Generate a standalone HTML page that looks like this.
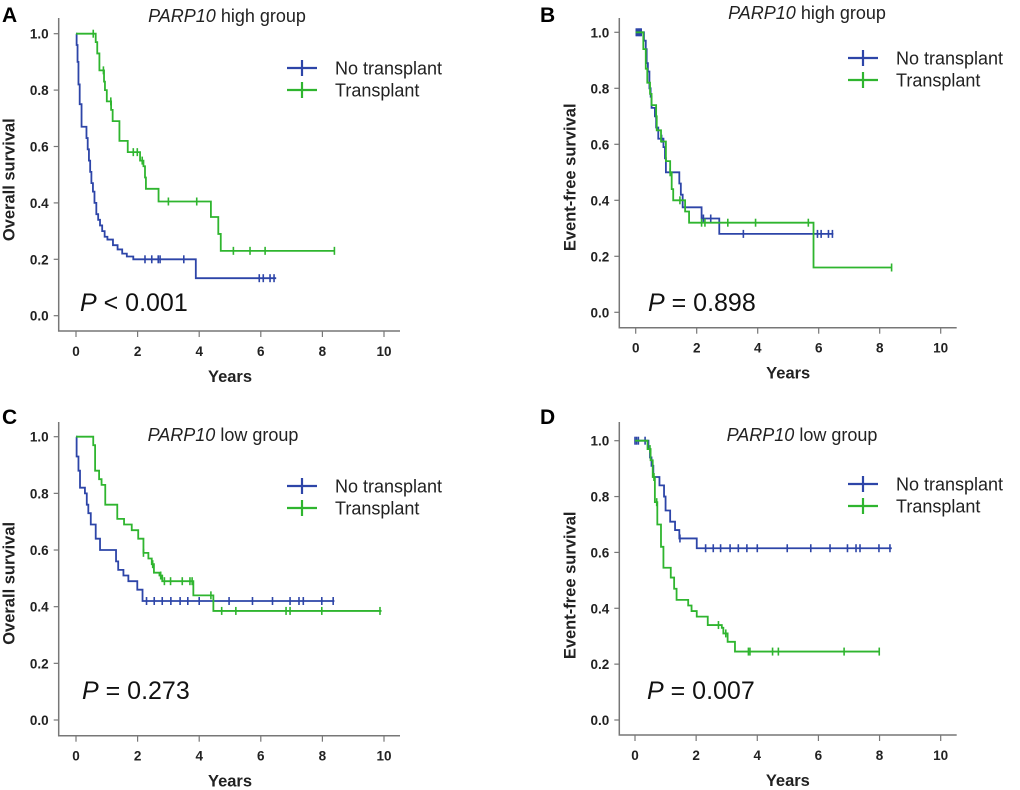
<!DOCTYPE html>
<html><head><meta charset="utf-8"><style>
body{margin:0;background:#fff}
svg{display:block}
text{font-family:"Liberation Sans",Arial,sans-serif}
</style></head><body>
<svg id="fig" width="1020" height="790" viewBox="0 0 1020 790" xmlns="http://www.w3.org/2000/svg"></svg>
<script>
// ---- Panel A: overall survival, PARP10 high ----
const aNoT=[0.02,0.05,0.08,0.12,0.18,0.34,0.38,0.42,0.46,0.5,0.55,0.6,0.66,0.72,0.78,0.85,0.93,1.02,1.2,1.35,1.5,1.65,1.86,3.89];
const aNoS=[0.96,0.9,0.82,0.75,0.67,0.63,0.59,0.55,0.51,0.47,0.44,0.4,0.36,0.34,0.32,0.30,0.28,0.27,0.25,0.235,0.22,0.21,0.2,0.133];
const aNoEnd=6.5;
const aNoC=[2.24,2.46,2.67,2.73,3.5,5.95,6.08,6.3,6.43];
const aTrT=[0.64,0.69,0.76,0.91,0.94,1.0,1.14,1.19,1.41,1.68,2.08,2.19,2.24,2.27,2.68,4.38,4.62,4.7];
const aTrS=[0.97,0.93,0.87,0.83,0.80,0.76,0.73,0.69,0.62,0.58,0.55,0.53,0.49,0.45,0.405,0.35,0.29,0.23];
const aTrEnd=8.41;
const aTrC=[0.56,0.89,1.13,1.86,1.99,2.15,3.0,3.92,5.11,5.65,6.14,8.39];
// ---- Panel B: event-free survival, PARP10 high ----
const bNoT=[0.27,0.33,0.36,0.40,0.45,0.49,0.52,0.63,0.67,0.74,0.91,0.96,0.99,1.43,1.48,1.54,2.16,2.74];
const bNoS=[0.97,0.94,0.89,0.86,0.80,0.77,0.73,0.70,0.66,0.62,0.59,0.55,0.50,0.46,0.42,0.375,0.335,0.28];
const bNoEnd=6.48;
const bNoC=[0.02,0.06,0.1,0.14,0.18,0.85,2.22,2.46,3.53,5.96,6.08,6.32,6.45];
const bTrT=[0.25,0.33,0.38,0.47,0.52,0.67,0.69,0.83,0.99,1.13,1.18,1.23,1.62,1.75,5.83];
const bTrS=[0.94,0.87,0.82,0.78,0.74,0.70,0.65,0.61,0.54,0.50,0.44,0.40,0.36,0.32,0.16];
const bTrEnd=8.39;
const bTrC=[1.13,1.45,2.16,2.27,3.02,3.93,5.66,8.39];
// ---- Panel C: overall survival, PARP10 low ----
const cNoT=[0.02,0.08,0.13,0.29,0.35,0.4,0.48,0.64,0.78,1.3,1.37,1.54,1.7,1.99,2.16];
const cNoS=[0.93,0.88,0.82,0.80,0.76,0.73,0.69,0.64,0.60,0.56,0.53,0.51,0.49,0.46,0.42];
const cNoEnd=8.39;
const cNoC=[2.29,2.54,2.8,3.08,3.38,3.63,4.0,4.97,5.73,6.38,6.95,7.24,7.38,7.98,8.35];
const cTrT=[0.56,0.62,0.75,0.83,0.95,1.34,1.56,1.81,2.02,2.19,2.35,2.46,2.53,2.71,2.8,3.81,4.46];
const cTrS=[0.97,0.88,0.85,0.83,0.76,0.71,0.69,0.67,0.64,0.59,0.57,0.55,0.52,0.51,0.49,0.44,0.385];
const cTrEnd=9.92;
const cTrC=[2.19,2.49,2.75,2.87,3.07,3.45,3.7,3.77,4.38,4.73,5.19,6.82,6.95,7.98,9.87];
// ---- Panel D: event-free survival, PARP10 low ----
const dNoT=[0.44,0.49,0.54,0.6,0.8,0.95,1.0,1.15,1.31,1.45,2.02];
const dNoS=[0.97,0.94,0.91,0.87,0.84,0.80,0.75,0.71,0.68,0.65,0.615];
const dNoEnd=8.4;
const dNoC=[0,0.05,0.11,0.33,1.47,2.31,2.56,2.8,3.11,3.38,3.66,4.0,4.98,5.75,6.38,6.95,7.23,7.36,7.98,8.34];
const dTrT=[0.41,0.51,0.58,0.65,0.73,0.85,0.93,1.17,1.28,1.36,1.74,1.85,2.02,2.38,2.84,2.89,3.03,3.27];
const dTrS=[0.97,0.93,0.87,0.78,0.70,0.62,0.545,0.51,0.47,0.43,0.41,0.39,0.37,0.34,0.33,0.31,0.28,0.245];
const dTrEnd=7.99;
const dTrC=[0.49,0.62,0.71,2.73,2.97,3.71,3.76,4.5,4.69,6.84,7.99];

const xTicks=[0,2,4,6,8,10];
const yTicks=[0,0.2,0.4,0.6,0.8,1.0];
const BLUE="#2d45a8", GREEN="#2fb52f";
const NS="http://www.w3.org/2000/svg";
const svg=document.getElementById('fig');
function mk(tag,attrs,parent){const e=document.createElementNS(NS,tag);for(const k in attrs)e.setAttribute(k,attrs[k]);(parent||svg).appendChild(e);return e;}

const panels=[
 {id:'a',letter:'A',lx:2,ly:22,ax:58.7,ay:18,x0:76,x10:384,y0:315.7,y1:33.7,bot:331,right:400,ylab:'Overall survival',title:'high',tx:227,ty:22,legY:68,legX:287,p:'< 0.001',px:80,py:311,
  s:[[aNoT,aNoS,aNoEnd,aNoC,BLUE,'no-transplant'],[aTrT,aTrS,aTrEnd,aTrC,GREEN,'transplant']]},
 {id:'b',letter:'B',lx:540,ly:22,ax:619.3,ay:18,x0:635.7,x10:940.7,y0:312.3,y1:32.3,bot:327.7,right:956.7,ylab:'Event-free survival',title:'high',tx:807,ty:19,legY:58,legX:848,p:'= 0.898',px:648,py:311,
  s:[[bNoT,bNoS,bNoEnd,bNoC,BLUE,'no-transplant'],[bTrT,bTrS,bTrEnd,bTrC,GREEN,'transplant']]},
 {id:'c',letter:'C',lx:2,ly:424,ax:58.7,ay:422,x0:76,x10:384,y0:720,y1:436.7,bot:735.7,right:400,ylab:'Overall survival',title:'low',tx:223,ty:441,legY:486,legX:287,p:'= 0.273',px:82,py:699,
  s:[[cNoT,cNoS,cNoEnd,cNoC,BLUE,'no-transplant'],[cTrT,cTrS,cTrEnd,cTrC,GREEN,'transplant']]},
 {id:'d',letter:'D',lx:540,ly:424,ax:619.3,ay:422,x0:635,x10:940.7,y0:720,y1:440.7,bot:735,right:956.7,ylab:'Event-free survival',title:'low',tx:802,ty:441,legY:484,legX:848,p:'= 0.007',px:647,py:699,
  s:[[dNoT,dNoS,dNoEnd,dNoC,BLUE,'no-transplant'],[dTrT,dTrS,dTrEnd,dTrC,GREEN,'transplant']]}
];

panels.forEach(P=>{
 const g=mk('g',{});
 
 
 const X=t=>P.x0+(P.x10-P.x0)*t/10;
 const Y=v=>P.y0+(P.y1-P.y0)*v;
 const L=mk('text',{x:P.lx,y:P.ly,'font-size':21,'font-weight':'bold',fill:'#000'},g);L.textContent=P.letter;
 
 
 const ax=mk('path',{d:`M${P.ax},${P.ay}V${P.bot}H${P.right}`,stroke:'#777',fill:'none','stroke-width':1.5},g);
 
 
 yTicks.forEach(v=>{
  mk('line',{x1:P.ax-5,x2:P.ax,y1:Y(v),y2:Y(v),stroke:'#777','stroke-width':1.2},g);
  const t=mk('text',{x:P.ax-10,y:Y(v)+5,'font-size':13.5,'font-weight':'bold','text-anchor':'end',fill:'#222'},g);
  t.textContent=v.toFixed(1);
  
  
 });
 xTicks.forEach(v=>{
  mk('line',{x1:X(v),x2:X(v),y1:P.bot,y2:P.bot+6,stroke:'#777','stroke-width':1.2},g);
  const t=mk('text',{x:X(v),y:P.bot+25,'font-size':13.5,'font-weight':'bold','text-anchor':'middle',fill:'#222'},g);
  t.textContent=v;
  
  
 });
 const xt=mk('text',{x:(P.x0+P.x10)/2,y:P.bot+51,'font-size':16.5,'font-weight':'bold','text-anchor':'middle',fill:'#222'},g);
 xt.textContent='Years';
 
 
 const yc=(P.y0+P.y1)/2+5;
 const yt=mk('text',{x:0,y:0,'font-size':16.5,'font-weight':'bold','text-anchor':'middle',fill:'#222',transform:`translate(${P.ax-44},${yc}) rotate(-90)`},g);
 yt.textContent=P.ylab;
 
 
 const ti=mk('text',{x:P.tx,y:P.ty,'font-size':18,'text-anchor':'middle',fill:'#222'},g);
 ti.innerHTML='<tspan font-style="italic">PARP10</tspan> '+P.title+' group';
 
 
 P.s.forEach(([T,S,end,C,col,nm])=>{
  let d=`M${X(0)},${Y(1)}`;
  T.forEach((t,i)=>{d+=`H${X(t)}V${Y(S[i])}`;});
  d+=`H${X(end)}`;
  const p=mk('path',{d,stroke:col,fill:'none','stroke-width':1.8},g);
  
  
  const sAt=t=>{let v=1;T.forEach((tt,i)=>{if(tt<=t)v=S[i];});return v;};
  C.forEach(t=>{
   const m=mk('line',{x1:X(t),x2:X(t),y1:Y(sAt(t))-4,y2:Y(sAt(t))+4,stroke:col,'stroke-width':1.6},g);
   
   
  });
 });
 [['No transplant',BLUE,0],['Transplant',GREEN,22]].forEach(([lab,col,dy])=>{
  const lg=mk('g',{},g);
  
  
  mk('line',{x1:P.legX,x2:P.legX+30,y1:P.legY+dy,y2:P.legY+dy,stroke:col,'stroke-width':2.2},lg);
  mk('line',{x1:P.legX+15,x2:P.legX+15,y1:P.legY+dy-8,y2:P.legY+dy+8,stroke:col,'stroke-width':2.2},lg);
  const t=mk('text',{x:P.legX+48,y:P.legY+dy+6.5,'font-size':18,fill:'#222'},lg);t.textContent=lab;
 });
 const pt=mk('text',{x:P.px,y:P.py,'font-size':25,fill:'#111'},g);
 pt.innerHTML='<tspan font-style="italic">P</tspan> '+P.p;
 
 
});
</script>
</body></html>
